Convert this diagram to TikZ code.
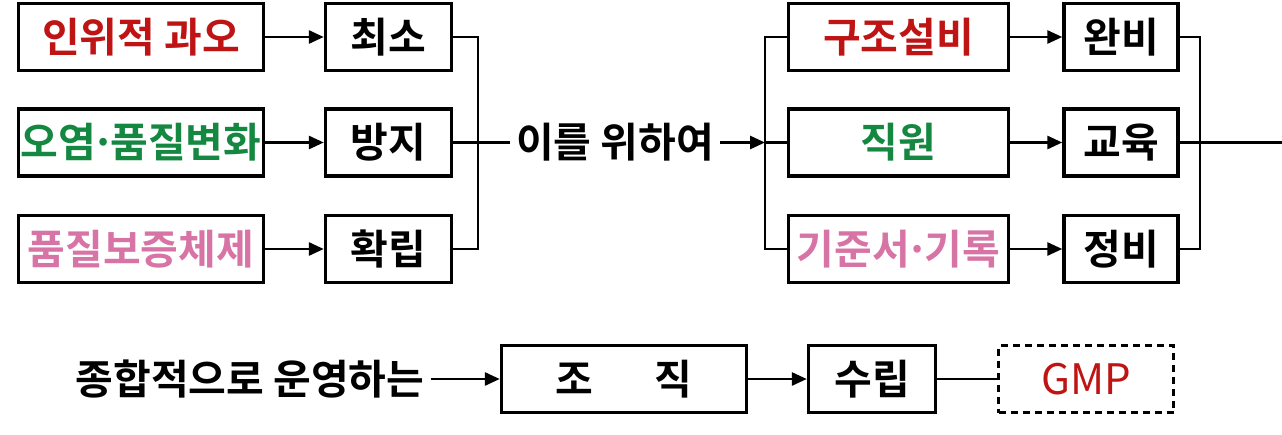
\documentclass[tikz,border=0pt]{standalone}
\usepackage{fontspec}
\setmainfont{Noto Sans CJK KR}[BoldFont=* Bold]
\usepackage{xcolor}
\usetikzlibrary{arrows.meta}
\usetikzlibrary{positioning}
\definecolor{MyRed}{RGB}{190,20,20}
\definecolor{MyGreen}{RGB}{20,135,65}
\definecolor{MyPink}{RGB}{215,115,165}
\newcommand{\middot}{\kern-0.12em·\kern-0.12em}
\tikzset{
  MyBox/.style={
    rectangle, draw=black, line width=3.4pt,
    minimum height=67pt, inner sep=0pt,
    font=\fontsize{41}{44}\selectfont\bfseries,
  },
  MyText/.style={font=\fontsize{41}{44}\selectfont\bfseries, inner sep=6pt},
  MyLine/.style={line width=2.8pt},
  MyArrow/.style={line width=2.8pt, -{Triangle[length=15pt,width=13pt]}},
}
\begin{document}
\begin{tikzpicture}[x=1pt,y=-1pt]
\useasboundingbox (0,0) rectangle (1282,434);
\node[MyBox, minimum width=245pt, text=MyRed] (HUM) at (141,37) {인위적 과오};
\node[MyBox, minimum width=245pt, text=MyGreen] (POL) at (141,142.5) {오염\middot 품질변화};
\node[MyBox, minimum width=245pt, text=MyPink] (QAS) at (141,249) {품질보증체제};
\node[MyBox, minimum width=126pt] (MIN) at (388.5,37) {최소};
\node[MyBox, minimum width=126pt] (PRE) at (388.5,142.5) {방지};
\node[MyBox, minimum width=126pt] (EST) at (388.5,249) {확립};
\node[MyText] (FOR) at (615,142.5) {이를 위하여};
\node[MyBox, minimum width=220pt, text=MyRed] (STR) at (898.5,37) {구조설비};
\node[MyBox, minimum width=220pt, text=MyGreen] (STF) at (898.5,142.5) {직원};
\node[MyBox, minimum width=220pt, text=MyPink] (DOC) at (898.5,249) {기준서\middot 기록};
\node[MyBox, minimum width=114pt] (COMP) at (1121,37) {완비};
\node[MyBox, minimum width=114pt] (EDU) at (1121,142.5) {교육};
\node[MyBox, minimum width=114pt] (MAIN) at (1121,249) {정비};
\node[MyText] (OPR) at (250,379) {종합적으로 운영하는};
\node[MyBox, minimum width=245pt] (ORG) at (624,379) {조\hspace{1.5em}직};
\node[MyBox, minimum width=127pt] (SET) at (872,379) {수립};
\node[MyBox, minimum width=175pt, line width=2.8pt, dash pattern=on 7pt off 5pt, font=\fontsize{42}{44}\selectfont, text=MyRed] (GMP) at (1086,379) {GMP};
\coordinate (J1) at (478,142.5);
\coordinate (J2) at (765,142.5);
\coordinate (J3) at (1200,142.5);
\coordinate (OUT) at (1282,142.5);
\draw[MyArrow] (HUM) to (MIN);
\draw[MyArrow] (POL) to (PRE);
\draw[MyArrow] (QAS) to (EST);
\draw[MyLine] (MIN.east) -| (J1) |- (EST.east);
\draw[MyLine] (PRE.east) to (FOR.west);
\draw[MyArrow] (FOR.east) to (J2);
\draw[MyLine] (STR.west) -| (J2) |- (DOC.west);
\draw[MyLine] (J2) to (STF.west);
\draw[MyArrow] (STR) to (COMP);
\draw[MyArrow] (STF) to (EDU);
\draw[MyArrow] (DOC) to (MAIN);
\draw[MyLine] (COMP.east) -| (J3) |- (MAIN.east);
\draw[MyLine] (EDU.east) to (OUT);
\draw[MyArrow] (OPR) to (ORG);
\draw[MyArrow] (ORG) to (SET);
\draw[MyLine] (SET) to (GMP);
\end{tikzpicture}
\end{document}
